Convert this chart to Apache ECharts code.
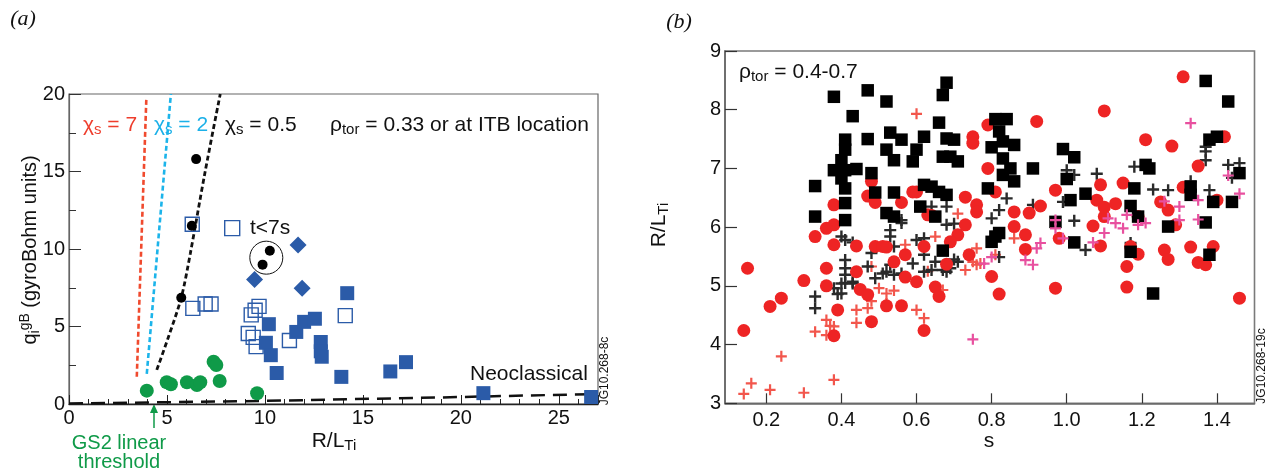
<!DOCTYPE html>
<html>
<head>
<meta charset="utf-8">
<script src="https://cdn.jsdelivr.net/npm/echarts@6/dist/echarts.min.js"></script>
<style>
html,body{margin:0;padding:0;background:#fff;}
#chart{width:1277px;height:472px;}
</style>
</head>
<body>
<div id="chart"></div>
<script>
// ---------- Panel (a) data ----------
const gs2Circles = [[3.97,0.86],[4.99,1.40],[5.2,1.27],[6.02,1.40],[6.53,1.23],[6.70,1.40],[7.38,2.73],[7.52,2.52],[7.69,1.48],[9.6,0.69]];
const blackDots = [[6.49,15.8],[6.27,11.5],[5.73,6.86],[10.25,9.89],[9.88,8.99]];
const openSquares = [[6.29,11.6],[6.32,6.17],[6.95,6.45],[7.25,6.45],[9.7,6.3],[9.5,6.05],[9.3,5.75],[9.15,4.55],[9.4,4.3],[9.55,3.7],[11.25,4.1],[14.1,5.7]];
const filledSquares = [[10.2,5.15],[10.05,3.95],[10.3,3.15],[10.6,2.0],[11.6,4.65],[12.0,5.3],[12.55,5.5],[12.85,4.0],[12.85,3.4],[12.9,3.05],[14.2,7.15],[13.9,1.75],[16.4,2.1],[17.2,2.7],[21.15,0.7],[26.65,0.45]];
const diamonds = [[11.69,10.26],[9.47,8.04],[11.9,7.46]];
const chi7 = [[3.46,1.76],[3.95,19.8]];
const chi2 = [[3.97,1.94],[5.2,20]];
const chi05 = [[4.48,2.2],[5.08,4.34],[5.73,6.86],[6.19,9.7],[6.95,15],[7.72,20]];
const neoclassical = [[0,0.03],[10,0.2],[20,0.45],[27,0.65]];
const ringCenter = [[10.07,9.44]];
const tKey = [[8.33,11.35]];
const xTicksA = [0,5,10,15,20,25];
const yTicksA = [0,5,10,15,20];

// ---------- Panel (b) data ----------
const blackSquares = [[0.38,8.22],[0.47,8.33],[0.52,8.14],[0.68,8.46],[0.67,8.25],[0.43,7.89],[0.66,7.78],[0.41,7.49],[0.47,7.50],[0.53,7.61],[0.56,7.49],[0.62,7.54],[0.68,7.51],[0.70,7.49],[0.41,7.32],[0.52,7.32],[0.60,7.32],[0.67,7.20],[0.69,7.20],[0.71,7.12],[0.80,7.36],[0.40,7.14],[0.54,7.14],[0.59,7.12],[0.38,6.97],[0.41,6.97],[0.44,6.99],[0.48,6.92],[0.40,6.83],[0.33,6.70],[0.41,6.66],[0.49,6.59],[0.54,6.59],[0.62,6.72],[0.64,6.69],[0.66,6.60],[0.68,6.55],[0.79,6.66],[0.41,6.41],[0.61,6.35],[0.52,6.24],[0.54,6.18],[0.33,6.18],[0.41,6.12],[0.65,6.18],[0.67,5.60],[0.81,5.84],[0.81,7.84],[0.84,7.84],[0.82,7.63],[0.83,7.46],[0.86,7.40],[0.83,7.17],[0.85,7.00],[0.83,6.89],[0.86,6.78],[0.91,7.00],[0.99,7.33],[1.02,7.19],[1.00,6.82],[1.05,6.57],[1.01,6.46],[0.97,6.09],[1.02,5.74],[1.21,7.06],[1.22,7.00],[1.18,6.66],[1.17,6.36],[1.19,6.18],[1.27,6.01],[1.33,6.69],[1.33,6.55],[1.38,7.49],[1.40,7.54],[1.39,6.43],[1.44,6.43],[1.46,6.92],[1.37,6.08],[1.17,5.58],[1.38,5.53],[1.23,4.87],[0.82,5.90],[0.80,5.75],[1.37,8.49],[1.43,8.14]];
const redCircles = [[0.79,7.74],[0.75,7.54],[0.75,7.43],[0.79,7.00],[0.48,6.78],[0.47,6.53],[0.49,6.42],[0.38,6.38],[0.56,6.42],[0.59,6.60],[0.60,6.60],[0.63,6.21],[0.73,6.51],[0.76,6.38],[0.76,6.26],[0.73,6.04],[0.71,5.87],[0.38,6.04],[0.36,5.98],[0.33,5.84],[0.38,5.70],[0.44,5.68],[0.49,5.67],[0.51,5.67],[0.52,5.66],[0.62,5.67],[0.69,5.75],[0.74,5.53],[0.57,5.53],[0.54,5.41],[0.68,5.37],[0.15,5.30],[0.36,5.30],[0.44,5.24],[0.57,5.15],[0.60,5.07],[0.30,5.09],[0.36,5.00],[0.45,4.94],[0.65,4.98],[0.66,4.82],[0.24,4.79],[0.47,4.85],[0.21,4.65],[0.52,4.66],[0.56,4.66],[0.39,4.59],[0.48,4.39],[0.62,4.24],[0.14,4.24],[0.38,4.15],[0.80,5.16],[0.82,4.86],[0.64,6.20],[0.92,7.80],[1.21,7.49],[1.28,7.38],[1.42,7.54],[1.35,7.04],[0.81,6.60],[0.97,6.63],[1.09,6.72],[1.15,6.75],[1.31,6.68],[1.40,6.46],[1.08,6.46],[1.10,6.34],[1.13,6.40],[1.25,6.43],[1.27,6.29],[0.86,6.26],[0.90,6.24],[0.93,6.36],[0.86,6.01],[0.89,5.87],[0.89,5.62],[1.10,6.18],[1.19,6.18],[1.07,6.02],[1.29,6.04],[0.98,5.81],[1.09,5.68],[1.17,5.67],[1.19,5.54],[1.26,5.61],[1.27,5.45],[1.33,5.66],[1.39,5.67],[1.35,5.40],[1.37,5.36],[1.16,5.33],[0.97,4.96],[1.16,4.98],[1.46,4.79],[1.31,8.56],[1.10,7.98]];
const blackCrosses = [[0.64,6.35],[0.68,6.35],[0.56,6.12],[0.70,6.06],[0.41,5.44],[0.41,5.30],[0.41,5.19],[0.41,5.05],[0.38,4.96],[0.39,4.86],[0.33,4.82],[0.33,4.62],[0.43,5.07],[0.47,5.33],[0.49,5.13],[0.51,5.21],[0.53,5.36],[0.54,5.19],[0.56,5.21],[0.59,5.38],[0.64,5.27],[0.65,5.41],[0.69,5.30],[0.71,5.41],[0.60,5.78],[0.62,5.81],[0.41,5.78],[0.43,5.74],[0.48,5.56],[0.53,5.95],[0.56,6.07],[0.68,6.04],[0.40,5.84],[0.54,5.67],[0.53,5.84],[0.62,5.53],[0.62,5.24],[0.68,5.24],[0.70,5.45],[0.52,5.24],[0.43,5.04],[0.40,5.04],[0.40,4.87],[0.67,5.27],[0.82,5.49],[1.05,5.61],[1.17,5.73],[0.84,6.49],[0.82,6.29],[0.80,6.15],[0.91,6.38],[1.00,6.97],[1.02,6.89],[0.99,6.43],[1.08,6.91],[1.02,6.11],[1.18,7.03],[1.23,6.64],[1.27,6.63],[1.38,6.63],[1.37,7.37],[1.37,7.29],[1.37,7.14],[1.43,7.06],[1.46,7.09],[1.33,6.78],[1.44,6.84]];
const redPluses = [[0.60,7.93],[0.71,6.23],[0.50,4.96],[0.52,4.87],[0.54,4.92],[0.47,4.62],[0.44,4.59],[0.44,4.37],[0.36,4.42],[0.37,4.32],[0.33,4.22],[0.36,4.16],[0.60,4.59],[0.62,4.45],[0.24,3.80],[0.38,3.40],[0.73,5.27],[0.76,5.36],[0.76,5.64],[0.48,5.33],[0.57,5.70],[0.65,5.84],[0.67,4.93],[0.14,3.16],[0.16,3.34],[0.21,3.23],[0.30,3.18],[0.75,5.41],[0.77,5.38],[0.86,5.81],[0.81,5.53],[0.52,4.70],[0.48,4.74],[0.38,4.31],[0.63,5.25]];
const pinkPluses = [[0.75,4.09],[1.33,7.77],[1.46,6.57],[1.43,6.88],[1.35,6.46],[1.30,6.35],[1.26,6.44],[1.30,6.12],[1.35,6.13],[1.16,6.21],[1.15,5.98],[1.19,6.04],[1.21,6.07],[1.13,6.07],[1.11,6.15],[1.10,5.90],[1.07,5.74],[0.97,6.12],[0.97,5.98],[0.99,5.81],[0.93,5.73],[0.92,5.64],[0.89,5.44],[0.91,5.36],[0.80,5.49],[0.78,5.38]];
const xTicksB = [0.2,0.4,0.6,0.8,1.0,1.2,1.4];
const yTicksB = [3,4,5,6,7,8,9];

// ---------- styles ----------
const FONT = "'Liberation Sans', Arial, Helvetica, sans-serif";
const BLUE = '#2b5ba8';
const GREEN = '#0f9a48';
const PLUS = 'path://M4,0L6,0L6,4L10,4L10,6L6,6L6,10L4,10L4,6L0,6L0,4L4,4Z';

function richSet(color, size) {
  return {
    c: {fontSize: size, fontFamily: FONT, fill: color, lineHeight: 24, verticalAlign: 'middle'},
    s: {fontSize: Math.round(size*0.7), fontFamily: FONT, fill: color, lineHeight: 12, verticalAlign: 'bottom'},
    u: {fontSize: Math.round(size*0.7), fontFamily: FONT, fill: color, lineHeight: 12, verticalAlign: 'top'}
  };
}
function txt(x, y, text, color, size, align, extra) {
  return Object.assign({
    type: 'text', x: x, y: y, silent: true, z: 50,
    style: {text: text, rich: richSet(color, size), fill: color, font: size + 'px ' + FONT,
            align: align || 'left', verticalAlign: 'middle'}
  }, extra || {});
}

const chart = echarts.init(document.getElementById('chart'), null, {renderer: 'canvas'});
const option = {
  animation: false,
  backgroundColor: '#fff',
  grid: [
    {left: 69, top: 94, width: 529, height: 310, show: true, borderColor: '#666', borderWidth: 1.2, containLabel: false},
    {left: 725, top: 51, width: 529.5, height: 352.3, show: true, borderColor: '#7a7a7a', borderWidth: 1.6, containLabel: false}
  ],
  xAxis: [
    {gridIndex: 0, type: 'value', min: 0, max: 27, interval: 1, position: 'bottom',
     axisLine: {show: true, onZero: false, lineStyle: {color: '#222', width: 1.3}},
     axisTick: {show: true, inside: true, length: 5, lineStyle: {color: '#222', width: 1}},
     axisLabel: {margin: 4, fontSize: 20, fontFamily: FONT, color: '#111',
                 formatter: v => xTicksA.indexOf(v) >= 0 ? String(v) : ''},
     splitLine: {show: false}},
    {gridIndex: 0, type: 'value', min: 0, max: 27, interval: 5, position: 'bottom',
     axisLine: {show: false}, axisTick: {show: true, inside: true, length: 9, lineStyle: {color: '#222', width: 1}},
     axisLabel: {show: false}, splitLine: {show: false}},
    {gridIndex: 1, type: 'value', min: 0.09, max: 1.5, position: 'bottom',
     axisLine: {show: true, onZero: false, lineStyle: {color: '#666', width: 1.6}},
     axisTick: {show: true, inside: true, length: 10, customValues: xTicksB, lineStyle: {color: '#333', width: 1.2}},
     axisLabel: {margin: 7, fontSize: 20, fontFamily: FONT, color: '#111', customValues: xTicksB,
                 formatter: v => v.toFixed(1)},
     splitLine: {show: false}}
  ],
  yAxis: [
    {gridIndex: 0, type: 'value', min: 0, max: 20, interval: 2.5, position: 'left',
     axisLine: {show: true, onZero: false, lineStyle: {color: '#666', width: 1.2}},
     axisTick: {show: true, inside: true, length: 7, lineStyle: {color: '#333', width: 1}},
     axisLabel: {margin: 4, fontSize: 20, fontFamily: FONT, color: '#111',
                 formatter: v => yTicksA.indexOf(v) >= 0 ? String(v) : ''},
     splitLine: {show: false}},
    {gridIndex: 0, type: 'value', min: 0, max: 20, interval: 5, position: 'left',
     axisLine: {show: false}, axisTick: {show: true, inside: true, length: 12, lineStyle: {color: '#333', width: 1}},
     axisLabel: {show: false}, splitLine: {show: false}},
    {gridIndex: 1, type: 'value', min: 3, max: 9, interval: 1, position: 'left',
     axisLine: {show: true, onZero: false, lineStyle: {color: '#666', width: 1.6}},
     axisTick: {show: true, inside: true, length: 12, lineStyle: {color: '#333', width: 1.2}},
     axisLabel: {margin: 4, fontSize: 20, fontFamily: FONT, color: '#111',
                 formatter: v => yTicksB.indexOf(v) >= 0 ? String(v) : ''},
     splitLine: {show: false}}
  ],
  series: [
    // panel (a) lines
    {type: 'line', xAxisIndex: 0, yAxisIndex: 0, data: neoclassical, symbol: 'none', silent: true, z: 2,
     lineStyle: {color: '#111', width: 2.5, type: [14, 8]}},
    {type: 'line', xAxisIndex: 0, yAxisIndex: 0, data: chi7, symbol: 'none', silent: true, z: 2,
     lineStyle: {color: '#f04a2e', width: 2.6, type: [5, 3]}},
    {type: 'line', xAxisIndex: 0, yAxisIndex: 0, data: chi2, symbol: 'none', silent: true, z: 2,
     lineStyle: {color: '#1cb4ea', width: 2.6, type: [5, 3]}},
    {type: 'line', xAxisIndex: 0, yAxisIndex: 0, data: chi05, symbol: 'none', smooth: 0.3, silent: true, z: 2,
     lineStyle: {color: '#111', width: 2.8, type: [5, 3]}},
    // panel (a) markers
    {type: 'scatter', xAxisIndex: 0, yAxisIndex: 0, data: gs2Circles, symbol: 'circle', symbolSize: 14, z: 3,
     itemStyle: {color: GREEN, opacity: 1}},
    {type: 'scatter', xAxisIndex: 0, yAxisIndex: 0, data: openSquares, symbol: 'rect', symbolSize: 14, z: 3,
     itemStyle: {color: 'rgba(255,255,255,0)', borderColor: BLUE, borderWidth: 1.4, opacity: 1}},
    {type: 'scatter', xAxisIndex: 0, yAxisIndex: 0, data: tKey, symbol: 'rect', symbolSize: 15, z: 3,
     itemStyle: {color: 'rgba(255,255,255,0)', borderColor: BLUE, borderWidth: 1.4, opacity: 1}},
    {type: 'scatter', xAxisIndex: 0, yAxisIndex: 0, data: filledSquares, symbol: 'rect', symbolSize: 14, z: 4,
     itemStyle: {color: BLUE, opacity: 1}},
    {type: 'scatter', xAxisIndex: 0, yAxisIndex: 0, data: diamonds, symbol: 'diamond', symbolSize: [17, 17], z: 4,
     itemStyle: {color: BLUE, opacity: 1}},
    {type: 'scatter', xAxisIndex: 0, yAxisIndex: 0, data: ringCenter, symbol: 'circle', symbolSize: 33, z: 4,
     itemStyle: {color: 'rgba(255,255,255,0)', borderColor: '#111', borderWidth: 1, opacity: 1}},
    {type: 'scatter', xAxisIndex: 0, yAxisIndex: 0, data: blackDots, symbol: 'circle', symbolSize: 10, z: 5,
     itemStyle: {color: '#000', opacity: 1}},
    // panel (b)
    {type: 'scatter', xAxisIndex: 2, yAxisIndex: 2, data: redPluses, symbol: PLUS, symbolSize: 11, z: 3,
     itemStyle: {color: '#f2564c', opacity: 1}},
    {type: 'scatter', xAxisIndex: 2, yAxisIndex: 2, data: blackCrosses, symbol: PLUS, symbolSize: 12, z: 3,
     itemStyle: {color: '#2a2a2a', opacity: 1}},
    {type: 'scatter', xAxisIndex: 2, yAxisIndex: 2, data: redCircles, symbol: 'circle', symbolSize: 13, z: 4,
     itemStyle: {color: '#ee2424', opacity: 1}},
    {type: 'scatter', xAxisIndex: 2, yAxisIndex: 2, data: blackSquares, symbol: 'rect', symbolSize: 12.5, z: 5,
     itemStyle: {color: '#000', opacity: 1}},
    {type: 'scatter', xAxisIndex: 2, yAxisIndex: 2, data: pinkPluses, symbol: PLUS, symbolSize: 11, z: 6,
     itemStyle: {color: '#e8509f', opacity: 1}}
  ],
  graphic: [
    // panel titles
    {type: 'text', x: 23, y: 19, silent: true, style: {text: '(a)', font: 'italic 22px "Liberation Serif", "Times New Roman", serif', fill: '#111', align: 'center', verticalAlign: 'middle'}},
    {type: 'text', x: 679, y: 22, silent: true, style: {text: '(b)', font: 'italic 22px "Liberation Serif", "Times New Roman", serif', fill: '#111', align: 'center', verticalAlign: 'middle'}},
    // panel (a) annotations
    txt(83, 125, '{c|χ}{s|s}{c| = 7}', '#ee3d2c', 21),
    txt(154, 125, '{c|χ}{s|s}{c| = 2}', '#1bb0e8', 21),
    txt(225, 125, '{c|χ}{s|s}{c| = 0.5}', '#111', 21),
    txt(330, 125, '{c|ρ}{s|tor}{c| = 0.33 or at ITB location}', '#111', 21),
    txt(250, 228, '{c|t<7s}', '#111', 21),
    txt(470, 374, '{c|Neoclassical}', '#111', 21),
    txt(119, 443, '{c|GS2 linear}', GREEN, 20, 'center'),
    txt(119, 462, '{c|threshold}', GREEN, 20, 'center'),
    {type: 'line', silent: true, shape: {x1: 154, y1: 428, x2: 154, y2: 411}, style: {stroke: GREEN, lineWidth: 1.5}},
    {type: 'polygon', silent: true, shape: {points: [[154, 404], [150, 413], [158, 413]]}, style: {fill: GREEN}},
    // axis names
    txt(334, 441, '{c|R/L}{s|Ti}', '#111', 21, 'center'),
    txt(30, 250, '{c|q}{s|i}{u|gB}{c| (gyroBohm units)}', '#111', 20, 'center', {rotation: Math.PI / 2}),
    txt(989, 441, '{c|s}', '#111', 21, 'center'),
    txt(659, 225, '{c|R/L}{s|Ti}', '#111', 21, 'center', {rotation: Math.PI / 2}),
    // panel (b) annotation
    txt(739, 72, '{c|ρ}{s|tor}{c| = 0.4-0.7}', '#111', 21),
    // figure codes
    {type: 'text', x: 605, y: 371, rotation: Math.PI / 2, silent: true, style: {text: 'JG10.268-8c', font: '12px ' + FONT, fill: '#111', align: 'center', verticalAlign: 'middle'}},
    {type: 'text', x: 1262, y: 366, rotation: Math.PI / 2, silent: true, style: {text: 'JG10.268-19c', font: '12px ' + FONT, fill: '#111', align: 'center', verticalAlign: 'middle'}}
  ]
};
chart.setOption(option);
</script>
</body>
</html>
